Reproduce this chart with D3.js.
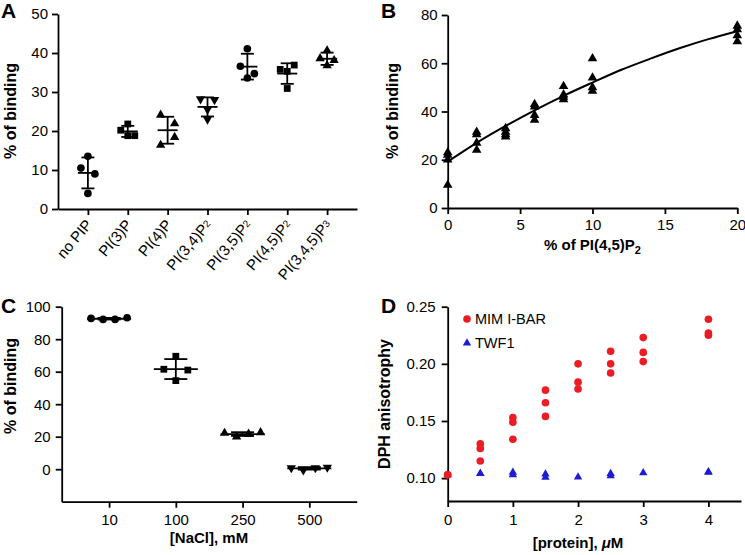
<!DOCTYPE html>
<html>
<head>
<meta charset="utf-8">
<script src="https://cdn.jsdelivr.net/npm/d3@7"></script>
<style>
body { margin: 0; background: #fff; }
text { font-family: "Liberation Sans", Arial, sans-serif; fill: #000; }
</style>
</head>
<body>
<svg id="fig" width="745" height="555"></svg>
<script>
//============================= data ============================
// panel A - PIP species
var catsA = ["no PIP", "PI(3)P", "PI(4)P", "PI(3,4)P", "PI(3,5)P", "PI(4,5)P", "PI(3,4,5)P"];
var subA = ["", "", "", "2", "2", "2", "3"];
var valuesA = [
    [13.5, 10.5, 9, 4],
    [21.8, 20.2, 18.8, 18.8],
    [24.1, 21.9, 18.4, 16.4],
    [28.2, 28, 25.5, 23],
    [41.1, 36.6, 34.7, 33.6],
    [36.9, 35.8, 35.3, 30.9],
    [40.6, 38.6, 38.1, 36.8]
];
var jitterA = [[0,-1,1,0],[0,-1,0,1],[-1,1,1,-1],[-1,1,0,0],[0,-1,1,0],[1,-1,0,0],[0,-1,1,0]];
var shapesA = ["circle","square","triangle","triangleDown","circle","square","triangle"];

// panel B - PI(4,5)P2 titration
var xB = [0, 2, 4, 6, 8, 10, 20];
var yB = [
    [23, 22, 20, 9.5],
    [31.5, 30.5, 27, 24],
    [33, 31.5, 30.5, 29.5],
    [43, 42, 38.5, 36.5],
    [50.5, 47, 46, 45],
    [62, 54, 50, 48.5],
    [75.5, 74, 71.5, 69]
];
var fitX = [0, 2, 4, 6, 8, 10, 12, 14, 16, 18, 20];
var fitY = [19.2, 27, 34, 40.5, 46.5, 52, 57.3, 61.9, 66.2, 70, 73.3];

// panel C - salt
var catsC = ["10", "100", "250", "500"];
var valuesC = [
    [92.8, 92.2, 92.2, 93.2],
    [69.5, 61.5, 61, 54.5],
    [22.2, 20, 21.7, 22.6],
    [0.8, -0.6, 0.8, 1.1]
];
var jitterC = [[-1.5,-0.5,0.5,1.5],[0,-1,1,0],[-1.5,-0.5,0.5,1.5],[-1.5,-0.5,0.5,1.5]];
var shapesC = ["circle","square","triangle","triangleDown"];

// panel D - DPH anisotropy
var doseD = [0, 0.5, 1, 1.5, 2, 2.5, 3, 4];
var mimD = [
    [0.103, 0.103],
    [0.130, 0.126, 0.115],
    [0.153, 0.149, 0.134],
    [0.177, 0.166, 0.154],
    [0.200, 0.184, 0.178],
    [0.211, 0.200, 0.192],
    [0.223, 0.210, 0.202],
    [0.239, 0.227, 0.225]
];
var twfD = [
    [0.103],
    [0.104, 0.104],
    [0.105, 0.103],
    [0.1035, 0.1006],
    [0.101],
    [0.104, 0.102],
    [0.1046],
    [0.1055, 0.105]
];

var RED = "#ec1c24", BLUE = "#1c1cd4";

//============================= helpers ============================
var svg = d3.select("#fig");

function styleAxis(g) {
    g.attr("font-family", "Liberation Sans, Arial, sans-serif");
    g.selectAll("path, line").attr("stroke", "#000").attr("stroke-width", 1.8);
    g.selectAll("text").attr("font-size", 15).attr("fill", "#000");
}

var symbolType = {
    circle: d3.symbolCircle, square: d3.symbolSquare,
    triangle: d3.symbolTriangle, triangleDown: d3.symbolTriangle
};
var symbolSize = { circle: 46, square: 46, triangle: 38, triangleDown: 38 };

function marker(g, shape, cx, cy, fill, scale) {
    var s = symbolSize[shape] * (scale || 1);
    g.append("path")
        .attr("d", d3.symbol(symbolType[shape], s)())
        .attr("transform", "translate(" + cx + "," + cy + ")" + (shape === "triangleDown" ? " rotate(180)" : ""))
        .attr("fill", fill);
}

// scatter dot plot with mean +/- SD
function dotPlot(g, x, y, cats, values, jitter, shapes, step, meanHalf, capHalf) {
    cats.forEach(function(c, i) {
        var cx = x(c);
        var m = d3.mean(values[i]), sd = d3.deviation(values[i]);
        var bars = g.append("g").attr("stroke", "#000").attr("stroke-width", 1.8);
        bars.append("line").attr("x1", cx - meanHalf).attr("x2", cx + meanHalf).attr("y1", y(m)).attr("y2", y(m));
        bars.append("line").attr("x1", cx).attr("x2", cx).attr("y1", y(m + sd)).attr("y2", y(m - sd));
        [m + sd, m - sd].forEach(function(v) {
            bars.append("line").attr("x1", cx - capHalf).attr("x2", cx + capHalf).attr("y1", y(v)).attr("y2", y(v));
        });
        values[i].forEach(function(v, j) {
            marker(g, shapes[i], cx + jitter[i][j] * step, y(v), "#000");
        });
    });
}

function panelLabel(txt, x, y) {
    svg.append("text").attr("x", x).attr("y", y)
        .attr("font-size", 21).attr("font-weight", "bold").text(txt);
}

function yTitle(txt, x, y) {
    svg.append("text")
        .attr("transform", "translate(" + x + "," + y + ") rotate(-90)")
        .attr("text-anchor", "middle")
        .attr("font-size", 16).attr("font-weight", "bold")
        .text(txt);
}

//============================= panel A ============================
var xA = d3.scalePoint().domain(catsA).range([58, 357]).padding(0.75);
var yA = d3.scaleLinear().domain([0, 50]).range([209, 14]);

svg.append("g").attr("transform", "translate(58,0)")
    .call(d3.axisLeft(yA).ticks(5).tickSize(6).tickSizeOuter(0).tickPadding(4))
    .call(styleAxis);
svg.append("g").attr("transform", "translate(0,209)")
    .call(d3.axisBottom(xA).tickSize(6).tickSizeOuter(0).tickFormat(""))
    .call(styleAxis);

// rotated category labels with subscripts
catsA.forEach(function(c, i) {
    var t = svg.append("text")
        .attr("transform", "translate(" + (xA(c) + 5) + ",225) rotate(-50)")
        .attr("text-anchor", "end")
        .attr("font-size", 15);
    t.append("tspan").text(c);
    if (subA[i]) t.append("tspan").attr("font-size", 10).attr("dy", -2).text(subA[i]);
});

dotPlot(svg.append("g"), xA, yA, catsA, valuesA, jitterA, shapesA, 7, 10, 6.5);
yTitle("% of binding", 16, 111);
panelLabel("A", 1, 18);

//============================= panel B ============================
var xBs = d3.scaleLinear().domain([0, 20]).range([447.7, 737.3]);
var yBs = d3.scaleLinear().domain([0, 80]).range([208, 15]);

svg.append("g").attr("transform", "translate(447.7,0)")
    .call(d3.axisLeft(yBs).ticks(4).tickSize(6).tickSizeOuter(0).tickPadding(4))
    .call(styleAxis);
svg.append("g").attr("transform", "translate(0,208)")
    .call(d3.axisBottom(xBs).ticks(4).tickSize(6).tickSizeOuter(0).tickPadding(5))
    .call(styleAxis);

var fitLine = d3.line()
    .x(function(d, i) { return xBs(fitX[i]); })
    .y(function(d) { return yBs(d); })
    .curve(d3.curveMonotoneX);
svg.append("path").datum(fitY)
    .attr("d", fitLine)
    .attr("fill", "none").attr("stroke", "#000").attr("stroke-width", 2);

var gB = svg.append("g");
xB.forEach(function(xv, i) {
    yB[i].forEach(function(v) { marker(gB, "triangle", xBs(xv), yBs(v), "#000", 1.05); });
});

yTitle("% of binding", 398, 111);
var tB = svg.append("text").attr("x", 592.5).attr("y", 250)
    .attr("text-anchor", "middle").attr("font-size", 15).attr("font-weight", "bold");
tB.append("tspan").text("% of PI(4,5)P");
tB.append("tspan").attr("font-size", 11).attr("dy", 4).text("2");
panelLabel("B", 381, 18);

//============================= panel C ============================
var xC = d3.scalePoint().domain(catsC).range([61.7, 356.7]).padding(0.71);
var yC = d3.scaleLinear().domain([-20, 100]).range([501.7, 306.7]);

svg.append("g").attr("transform", "translate(61.7,0)")
    .call(d3.axisLeft(yC).tickValues([0, 20, 40, 60, 80, 100]).tickSize(6).tickSizeOuter(0).tickPadding(5))
    .call(styleAxis);
svg.append("g").attr("transform", "translate(0,501.7)")
    .call(d3.axisBottom(xC).tickSize(6).tickSizeOuter(0).tickPadding(7))
    .call(styleAxis);

dotPlot(svg.append("g"), xC, yC, catsC, valuesC, jitterC, shapesC, 12, 22, 11.5);
yTitle("% of binding", 16, 386);
svg.append("text").attr("x", 209).attr("y", 543)
    .attr("text-anchor", "middle").attr("font-size", 15).attr("font-weight", "bold")
    .text("[NaCl], mM");
panelLabel("C", 1, 313);

//============================= panel D ============================
var xD = d3.scaleLinear().domain([0, 4.5]).range([447.7, 741]);
var yD = d3.scaleLinear().domain([0.08, 0.25]).range([501, 306.7]);

svg.append("g").attr("transform", "translate(447.7,0)")
    .call(d3.axisLeft(yD).tickValues([0.10, 0.15, 0.20, 0.25]).tickFormat(d3.format(".2f")).tickSize(6).tickSizeOuter(0).tickPadding(6))
    .call(styleAxis);
svg.append("g").attr("transform", "translate(0,501)")
    .call(d3.axisBottom(xD).tickValues([0, 1, 2, 3, 4]).tickFormat(d3.format("d")).tickSize(6).tickSizeOuter(0).tickPadding(7))
    .call(styleAxis);

var gD = svg.append("g");
doseD.forEach(function(xv, i) {
    twfD[i].forEach(function(v) { marker(gD, "triangle", xD(xv), yD(v), BLUE, 0.8); });
});
doseD.forEach(function(xv, i) {
    mimD[i].forEach(function(v) { marker(gD, "circle", xD(xv), yD(v), RED, 1); });
});

// legend
marker(svg, "circle", 467, 319, RED, 1);
svg.append("text").attr("x", 475).attr("y", 324).attr("font-size", 14.5).text("MIM I-BAR");
marker(svg, "triangle", 467, 343, BLUE, 0.8);
svg.append("text").attr("x", 475).attr("y", 348).attr("font-size", 14.5).text("TWF1");

yTitle("DPH anisotrophy", 390, 404);
var tD = svg.append("text").attr("x", 578).attr("y", 548)
    .attr("text-anchor", "middle").attr("font-size", 15).attr("font-weight", "bold");
tD.append("tspan").text("[protein], ");
tD.append("tspan").attr("font-style", "italic").text("\u03bc");
tD.append("tspan").text("M");
panelLabel("D", 381, 313);
</script>
</body>
</html>
